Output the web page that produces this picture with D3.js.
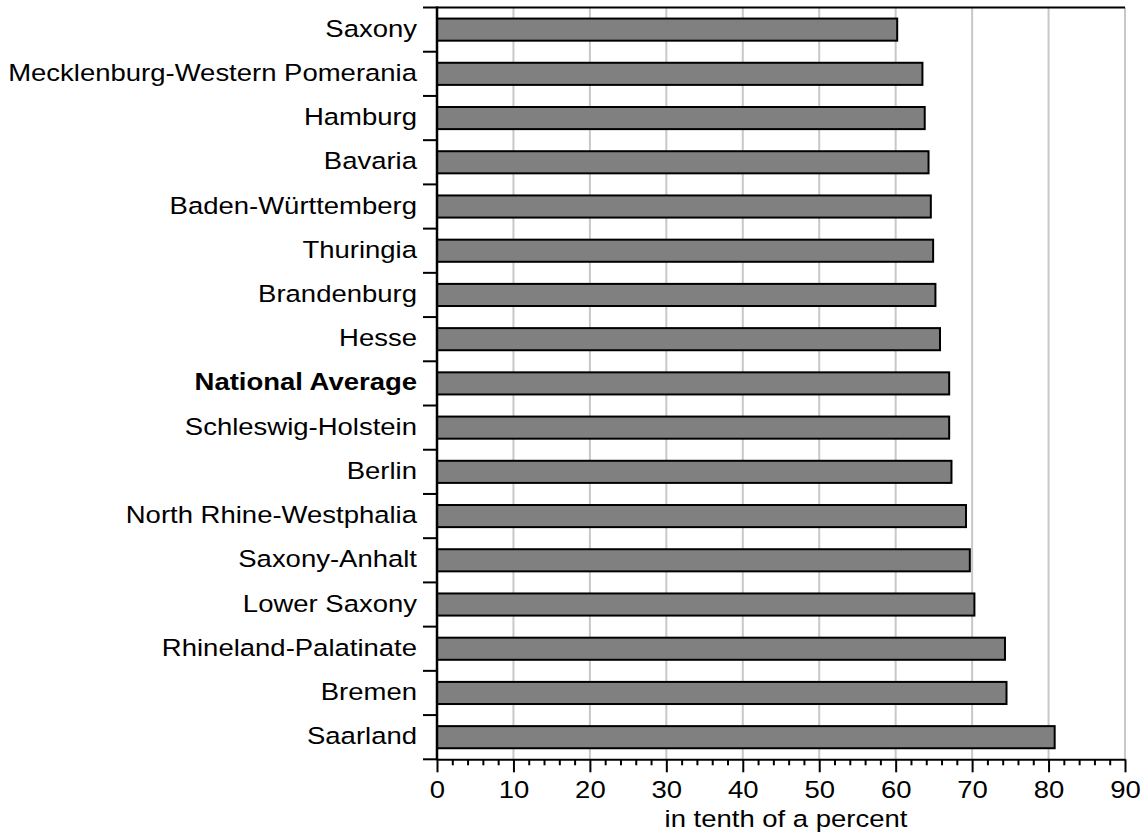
<!DOCTYPE html>
<html>
<head>
<meta charset="utf-8">
<script src="https://cdn.jsdelivr.net/npm/d3@7"></script>
<style>
  html, body { margin: 0; padding: 0; background: #fff; }
  svg { display: block; }
  text { font-family: "Liberation Sans", Arial, sans-serif; fill: #000; }
</style>
</head>
<body>
<svg id="chart" width="1146" height="838"></svg>
<script>
// ---- data ----
const categories = [
  "Saxony", "Mecklenburg-Western Pomerania", "Hamburg", "Bavaria",
  "Baden-Württemberg", "Thuringia", "Brandenburg", "Hesse",
  "National Average", "Schleswig-Holstein", "Berlin",
  "North Rhine-Westphalia", "Saxony-Anhalt", "Lower Saxony",
  "Rhineland-Palatinate", "Bremen", "Saarland"
];
const values = [60.2, 63.5, 63.8, 64.3, 64.6, 64.9, 65.2, 65.8, 67.0, 67.0, 67.3, 69.2, 69.7, 70.3, 74.3, 74.5, 80.8];
const boldCategories = ["National Average"];
const majorTicks = [0, 10, 20, 30, 40, 50, 60, 70, 80, 90];
const minorTicks = [2, 4, 6, 8, 12, 14, 16, 18, 22, 24, 26, 28, 32, 34, 36, 38, 42, 44, 46, 48, 52, 54, 56, 58, 62, 64, 66, 68, 72, 74, 76, 78, 82, 84, 86, 88];
const xTitle = "in tenth of a percent";

// ---- layout ----
const plotLeft = 437, plotRight = 1125, plotTop = 7.5, plotBottom = 759.3;
const fontSize = 23.5, stretch = 1.17;

const svg = d3.select("#chart");
const x = d3.scaleLinear().domain([0, 90]).range([plotLeft, plotRight]);
const y = d3.scaleBand().domain(categories).range([plotTop, plotBottom]).paddingInner(0.5).paddingOuter(0.25);

// gridlines
svg.append("g")
  .selectAll("line").data(majorTicks.filter(d => d > 0)).join("line")
  .attr("x1", d => x(d)).attr("x2", d => x(d))
  .attr("y1", plotTop).attr("y2", plotBottom)
  .attr("stroke", "#c8c8c8").attr("stroke-width", 2);

// bars
svg.append("g")
  .selectAll("rect").data(categories).join("rect")
  .attr("x", x(0))
  .attr("y", d => y(d))
  .attr("width", (d, i) => x(values[i]) - x(0))
  .attr("height", y.bandwidth())
  .attr("fill", "#808080")
  .attr("stroke", "#000")
  .attr("stroke-width", 2);

// top frame line
svg.append("line")
  .attr("x1", plotLeft).attr("x2", plotRight).attr("y1", plotTop).attr("y2", plotTop)
  .attr("stroke", "#000").attr("stroke-width", 2);

// left axis (labels)
const yAxis = svg.append("g")
  .attr("transform", `translate(${plotLeft},0)`)
  .call(d3.axisLeft(y).tickSize(0).tickPadding(0));
yAxis.select(".domain").remove();
yAxis.selectAll(".tick text")
  .attr("x", -20 / stretch)
  .attr("dy", null)
  .attr("y", 7)
  .attr("transform", `scale(${stretch},1)`)
  .style("font-size", fontSize + "px")
  .style("font-weight", d => boldCategories.includes(d) ? "bold" : "normal");

// left axis line + boundary ticks
const boundaries = categories.map(c => y(c) - y.step() * y.paddingInner() / 2).concat([plotBottom]);
svg.append("g")
  .selectAll("line").data(boundaries).join("line")
  .attr("x1", plotLeft - 14).attr("x2", plotLeft)
  .attr("y1", d => d).attr("y2", d => d)
  .attr("stroke", "#000").attr("stroke-width", 2);
svg.append("line")
  .attr("x1", plotLeft).attr("x2", plotLeft).attr("y1", plotTop - 1).attr("y2", plotBottom + 1)
  .attr("stroke", "#000").attr("stroke-width", 2.5);

// bottom axis minor
const xMinor = svg.append("g")
  .attr("transform", `translate(0,${plotBottom})`)
  .call(d3.axisBottom(x).tickValues(minorTicks).tickSize(6).tickFormat(""));
xMinor.select(".domain").remove();
xMinor.selectAll(".tick line").attr("stroke", "#000").attr("stroke-width", 2);

// bottom axis major
const xAxis = svg.append("g")
  .attr("transform", `translate(0,${plotBottom})`)
  .call(d3.axisBottom(x).tickValues(majorTicks).tickSize(13).tickSizeOuter(0).tickFormat(d3.format("d")));
xAxis.select(".domain").attr("stroke", "#000").attr("stroke-width", 2);
xAxis.selectAll(".tick line").attr("stroke", "#000").attr("stroke-width", 2);
xAxis.selectAll(".tick text")
  .attr("y", 39)
  .attr("dy", null)
  .attr("transform", `scale(${stretch},1)`)
  .style("font-size", fontSize + "px");

// x title
svg.append("text")
  .attr("transform", `translate(786,827) scale(${stretch},1)`)
  .attr("text-anchor", "middle")
  .style("font-size", fontSize + "px")
  .text(xTitle);
</script>
</body>
</html>
